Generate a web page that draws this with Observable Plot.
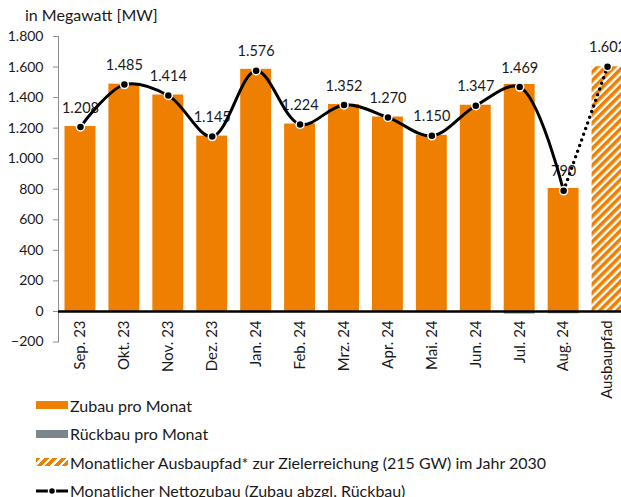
<!DOCTYPE html>
<html><head><meta charset="utf-8">
<script src="https://cdn.jsdelivr.net/npm/d3@7"></script>
<script src="https://cdn.jsdelivr.net/npm/@observablehq/plot@0.6"></script>
<style>
html,body{margin:0;padding:0;background:#fff;overflow:hidden;}
#wrap{position:relative;width:621px;height:497px;overflow:hidden;font-family:Lato,sans-serif;color:#1a1a1a;}
#unit{position:absolute;left:25px;top:5px;font-size:16px;line-height:20px;}
#chart{position:absolute;left:0;top:0;width:629px;}
#chart svg{max-width:none;}
#legend{position:absolute;left:36px;top:391px;font-size:16px;}
.item{display:flex;align-items:center;height:28.5px;white-space:nowrap;}
.sw{width:32px;height:8px;margin-right:2px;flex:none;}
</style></head><body>
<div id="wrap"><div id="chart"></div><div id="unit">in Megawatt [MW]</div><div id="legend"></div></div>
<script>
// ---- data ----
const months = ["Sep. 23","Okt. 23","Nov. 23","Dez. 23","Jan. 24","Feb. 24","Mrz. 24","Apr. 24","Mai. 24","Jun. 24","Jul. 24","Aug. 24"];
const zubau = [1211,1488,1417,1148,1585,1227,1355,1273,1153,1350,1486,805];
const rueckbau = [-3,-3,-3,-3,-9,-3,-3,-3,-3,-3,-17,-15];
const netto = [1208,1485,1414,1145,1576,1224,1352,1270,1150,1347,1469,790];
const ausbauLabel = "Ausbaupfad";
const ausbaupfad = 1602;
const yTicks = [-200,0,200,400,600,800,1000,1200,1400,1600,1800];
const legendLabels = ["Zubau pro Monat","Rückbau pro Monat","Monatlicher Ausbaupfad* zur Zielerreichung (215 GW) im Jahr 2030","Monatlicher Nettozubau (Zubau abzgl. Rückbau)"];

const ORANGE = "#ee7f00", GREY = "#7a868c", TXT = "#1a1a1a";
const fmt = d3.formatLocale({decimal: ",", thousands: ".", grouping: [3], currency: ["", " €"]}).format(",d");

const cats = [...months, ausbauLabel];
const bars = months.map((m, i) => ({x: m, y: zubau[i]}));
const rbars = months.map((m, i) => ({x: m, y: rueckbau[i]}));
const net = months.map((m, i) => ({x: m, y: netto[i]}));
const target = [{x: ausbauLabel, y: ausbaupfad}];
const dotted = [net[net.length - 1], target[0]];
const labels = [...net, ...target];

const chart = Plot.plot({
  width: 629, height: 410,
  marginLeft: 58, marginRight: 0, marginTop: 36, marginBottom: 68.5,
  style: {fontFamily: "Lato, sans-serif", fontSize: "14px", color: TXT, background: "transparent"},
  x: {domain: cats, padding: 0, round: false, axis: null},
  y: {domain: [-200, 1800], axis: null},
  marks: [
    Plot.axisY({ticks: yTicks, tickFormat: fmt, tickSize: 5, tickPadding: 10, stroke: "#8c8c8c", fill: TXT, fontSize: 14, label: null}),
    Plot.frame({anchor: "left", stroke: "#8c8c8c"}),
    Plot.barY(bars, {x: "x", y: "y", fill: ORANGE, insetLeft: 6.5, insetRight: 6.5}),
    Plot.barY(rbars, {x: "x", y: "y", fill: GREY, insetLeft: 6.5, insetRight: 6.5}),
    Plot.barY(target, {x: "x", y: "y", fill: "url(#hatch)", insetLeft: 6.5, insetRight: 6.5}),
    Plot.ruleY([0], {stroke: "black", strokeWidth: 2.5}),
    Plot.text(cats, {x: d => d, y: 0, text: d => d, rotate: -90, textAnchor: "end", dy: 9, fontSize: 15, fill: TXT}),
    Plot.text(labels, {x: "x", y: "y", text: d => fmt(d.y), dy: -19, fontSize: 14.5, fill: TXT}),
    Plot.line(net, {x: "x", y: "y", curve: "catmull-rom", stroke: "black", strokeWidth: 3}),
    Plot.line(dotted, {x: "x", y: "y", stroke: "black", strokeWidth: 3.5, strokeDasharray: "0 6", strokeLinecap: "round"}),
    Plot.dot(labels, {x: "x", y: "y", r: 4, fill: "black", stroke: "white", strokeWidth: 1.5})
  ]
});

const defs = document.createElementNS("http://www.w3.org/2000/svg", "defs");
defs.innerHTML = `<pattern id="hatch" patternUnits="userSpaceOnUse" width="6" height="6" patternTransform="rotate(45)"><rect width="6" height="6" fill="#fff"/><rect width="3.6" height="6" fill="${ORANGE}"/></pattern>`;
chart.insertBefore(defs, chart.firstChild);
document.getElementById("chart").appendChild(chart);

// legend
const swatches = [
  `<div class="sw" style="background:${ORANGE}"></div>`,
  `<div class="sw" style="background:${GREY}"></div>`,
  `<div class="sw" style="background:repeating-linear-gradient(135deg, ${ORANGE} 0 3.5px, #fff 3.5px 6px)"></div>`,
  `<svg class="sw" width="32" height="10" style="height:10px"><line x1="0" x2="32" y1="5" y2="5" stroke="black" stroke-width="3"/><circle cx="16" cy="5" r="3.5" fill="black" stroke="white" stroke-width="1.5"/></svg>`
];
document.getElementById("legend").innerHTML = legendLabels.map((t, i) => `<div class="item">${swatches[i]}<span>${t}</span></div>`).join("");
</script>
</body></html>
